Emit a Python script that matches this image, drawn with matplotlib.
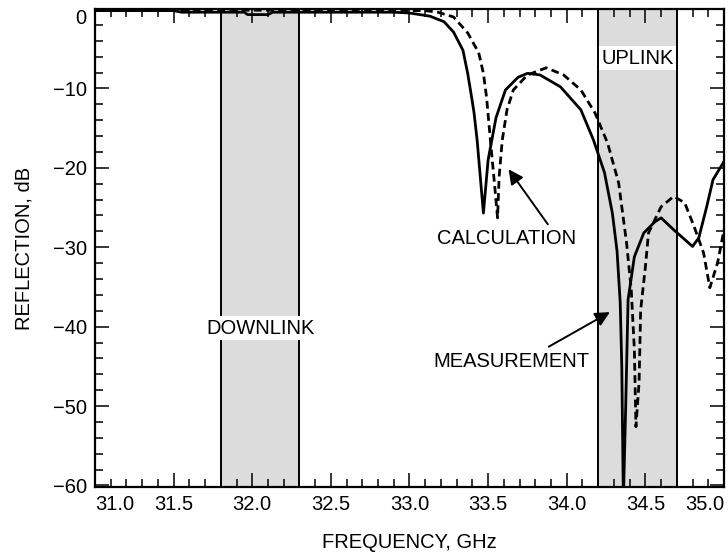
import matplotlib
matplotlib.use("Agg")
import matplotlib.pyplot as plt
from matplotlib.ticker import MultipleLocator

plt.rcParams['font.family'] = ['Liberation Sans', 'DejaVu Sans']
plt.rcParams['font.size'] = 14.5

# --- DATA ---
# measurement, solid line
meas_f = [31.0, 31.5, 31.55, 31.95, 31.97, 32.1, 32.13, 32.9, 33.0, 33.13,
          33.22, 33.28, 33.34, 33.37, 33.39, 33.41, 33.43, 33.45, 33.47, 33.50,
          33.55, 33.61, 33.69, 33.75, 33.83, 33.96, 34.09, 34.17, 34.24, 34.29,
          34.32, 34.34, 34.35, 34.36, 34.375, 34.39, 34.43, 34.49, 34.56, 34.60,
          34.68, 34.80, 34.84, 34.89, 34.93, 35.0]
meas_db = [-0.2, -0.2, -0.4, -0.4, -0.7, -0.7, -0.4, -0.4, -0.5, -0.9,
           -1.6, -2.9, -5.2, -8.1, -10.5, -13.0, -16.5, -21.1, -25.7, -19.0,
           -13.7, -10.2, -8.6, -8.1, -8.3, -9.8, -12.7, -16.5, -20.6, -25.7,
           -30.5, -37.0, -45.0, -62.0, -50.0, -36.6, -31.2, -28.2, -26.8, -26.3,
           -27.8, -29.9, -28.8, -24.9, -21.5, -19.2]

# calculation, dashed line
calc_f = [31.0, 33.1, 33.18, 33.28, 33.37, 33.44, 33.47, 33.49, 33.52, 33.54,
          33.56, 33.57, 33.59, 33.62, 33.66, 33.75, 33.87, 33.98, 34.09, 34.18,
          34.26, 34.33, 34.38, 34.41, 34.43, 34.44, 34.46, 34.47, 34.50, 34.52,
          34.60, 34.68, 34.75, 34.81, 34.87, 34.91, 34.96, 35.0]
calc_db = [-0.1, -0.2, -0.4, -1.0, -3.0, -5.5, -8.1, -11.1, -17.7, -21.9,
           -26.3, -21.1, -16.5, -12.7, -10.2, -8.3, -7.4, -8.3, -10.2, -13.1,
           -16.9, -21.9, -29.4, -35.3, -42.9, -52.6, -47.0, -37.9, -32.5, -28.2,
           -24.9, -23.6, -24.4, -27.4, -30.7, -35.1, -31.9, -27.8]

band_names = ["DOWNLINK", "UPLINK"]
band_lo = [31.8, 34.2]
band_hi = [32.3, 34.7]
band_label_db = [-40.2, -6.2]

xticks = [31.0, 31.5, 32.0, 32.5, 33.0, 33.5, 34.0, 34.5, 35.0]
yticks = [0, -10, -20, -30, -40, -50, -60]

# --- PLOT ---
fig = plt.figure(figsize=(7.28, 5.54), dpi=100)
ax = fig.add_axes([0.1305, 0.1209, 0.864, 0.8628])

for name, lo, hi, ly in zip(band_names, band_lo, band_hi, band_label_db):
    ax.axvspan(lo, hi, facecolor='#dcdcdc', edgecolor='black', lw=1.4, zorder=1)
    ax.text((lo + hi) / 2, ly, name, ha='center', va='center', zorder=2,
            bbox=dict(boxstyle='square,pad=0.12', facecolor='white', edgecolor='none'))

ax.plot(meas_f, meas_db, color='black', lw=2.0, zorder=4)
ax.plot(calc_f, calc_db, color='black', lw=2.0, linestyle=(0, (2.8, 1.6)), zorder=3)

# labels with arrows
ax.text(33.62, -28.9, "CALCULATION", ha='center', va='center', zorder=5)
ax.annotate('', xy=(33.62, -19.9), xytext=(33.89, -27.4), zorder=5,
            arrowprops=dict(arrowstyle='-|>', color='black', lw=1.4, mutation_scale=22))
ax.text(33.65, -44.4, "MEASUREMENT", ha='center', va='center', zorder=5)
ax.annotate('', xy=(34.29, -38.0), xytext=(33.87, -42.7), zorder=5,
            arrowprops=dict(arrowstyle='-|>', color='black', lw=1.4, mutation_scale=22))

ax.set_xlim(31.0, 35.0)
ax.set_ylim(-60.2, 0)
ax.set_xticks(xticks)
ax.set_xticklabels(["%.1f" % v for v in xticks])
ax.set_yticks(yticks)
ax.xaxis.set_minor_locator(MultipleLocator(0.1))
ax.yaxis.set_minor_locator(MultipleLocator(2))
ax.tick_params(which='both', direction='in', top=True, right=True, width=1.1)
ax.tick_params(which='major', length=10, pad=6)
ax.tick_params(which='minor', length=6)
for s in ax.spines.values():
    s.set_linewidth(1.6)

xl = ax.get_xticklabels()
xl[0].set_ha('left')
xl[-1].set_ha('right')
yl = ax.get_yticklabels()
yl[0].set_va('top')

ax.set_xlabel("FREQUENCY, GHz")
ax.set_ylabel("REFLECTION, dB")
ax.xaxis.set_label_coords(0.5, -0.096)
ax.yaxis.set_label_coords(-0.098, 0.5)

fig.savefig("out.png", dpi=100)
